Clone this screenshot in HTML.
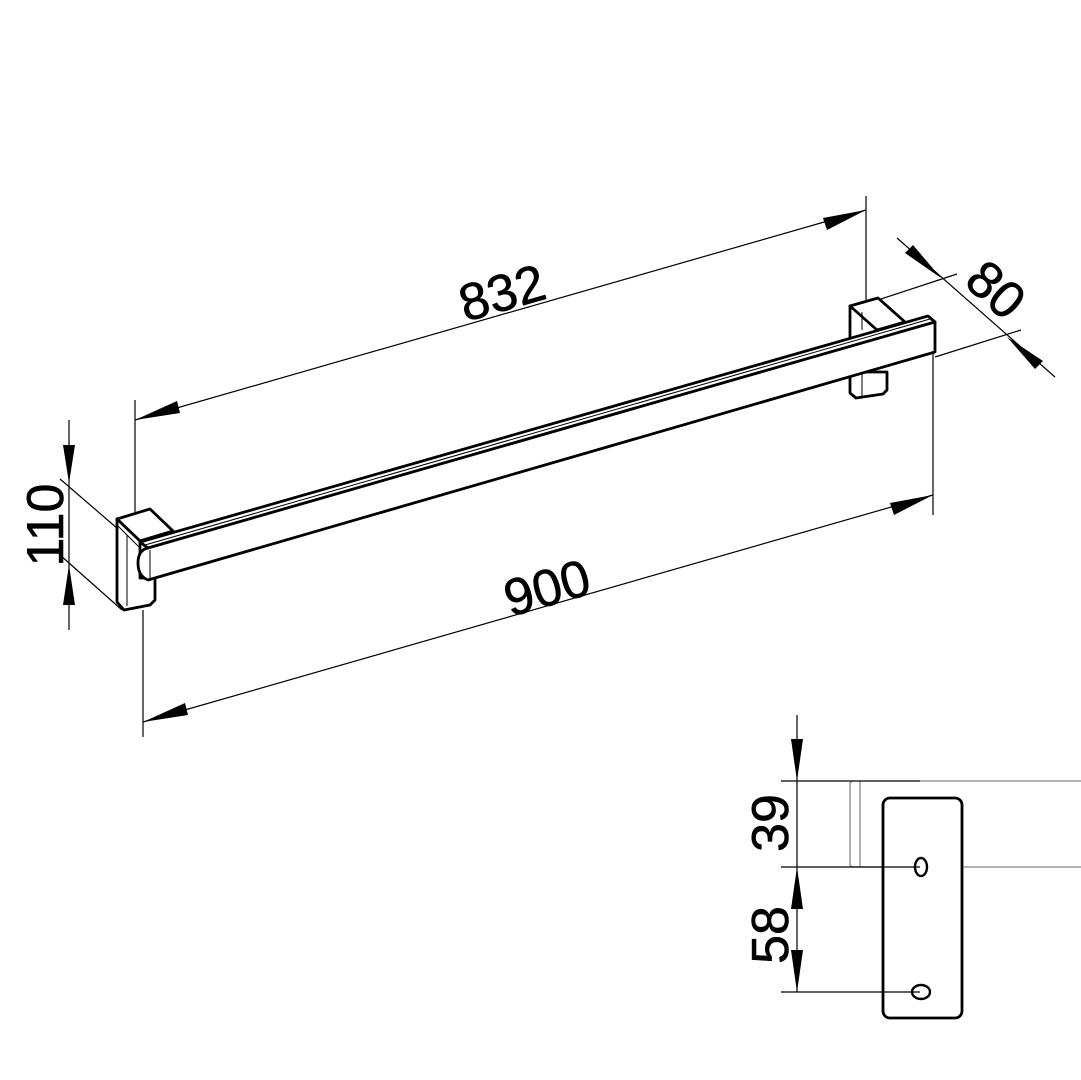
<!DOCTYPE html>
<html><head><style>body{margin:0;background:#fff}svg{display:block}</style></head><body>
<svg width="1081" height="1080" viewBox="0 0 1081 1080" xmlns="http://www.w3.org/2000/svg" font-family="Liberation Sans, sans-serif">
<g stroke="#000" stroke-width="1.2" fill="none">
<line x1="135" y1="400" x2="135" y2="512"/>
<line x1="866" y1="196" x2="866" y2="300"/>
<line x1="135" y1="420" x2="866" y2="210"/>
<line x1="143" y1="610" x2="143" y2="737"/>
<line x1="933" y1="330" x2="933" y2="515"/>
<line x1="143" y1="722" x2="933" y2="495"/>
<line x1="897" y1="238" x2="1055" y2="377"/>
<line x1="878" y1="300" x2="957" y2="274"/>
<line x1="935" y1="357" x2="1021" y2="330"/>
<line x1="69" y1="420" x2="69" y2="630"/>
<line x1="60" y1="479" x2="125" y2="535"/>
<line x1="60" y1="555" x2="122" y2="610"/>
</g>
<g fill="#000">
<polygon points="135,420 177,401 180,413"/>
<polygon points="866,210 823,218 827,230"/>
<polygon points="143,722 185,703 188,715"/>
<polygon points="933,495 890,503 894,515"/>
<polygon points="941,278 905,253 913,245"/>
<polygon points="1007,337 1043,361 1035,369"/>
<polygon points="69,483 63,445 75,445"/>
<polygon points="69,565 63,605 75,605"/>
</g>
<g stroke="#000" stroke-width="2.8" fill="#fff" stroke-linejoin="round">
<path d="M117,519 L150,509 L173,531 L140,541 Z"/>
<path d="M117,519 L117,602 L124,610 L150,605 L155,600 L155,578 L140,578 L140,541 Z"/>
<path d="M850,306 L878,298 L905,322 L877,330 Z"/>
<path d="M850,306 L850,393 L856,398 L883,394 L887,390 L887,372 L850,372 Z"/>
<path d="M140,542 L928,316 L935,322 L148,548 Z"/>
<path d="M148,548 L935,322 L935,352 L148,580 Q138,576 138,563 Q138,550 148,548 Z"/>
</g>
<g stroke="#000" stroke-width="1" fill="none">
<line x1="145" y1="545" x2="930" y2="319"/>
<line x1="150" y1="550" x2="150" y2="578"/>
<line x1="127" y1="535" x2="127" y2="606"/>
<line x1="862" y1="312" x2="862" y2="330"/>
<line x1="862" y1="372" x2="862" y2="396"/>
<line x1="117" y1="525" x2="140" y2="548"/>
</g>
<g font-size="52" fill="#000" stroke="#000" stroke-width="0.6">
<text x="0" y="0" text-anchor="middle" transform="translate(507,310) rotate(-16)">832</text>
<text x="0" y="0" text-anchor="middle" transform="translate(552,605) rotate(-16)">900</text>
<text x="0" y="0" text-anchor="middle" transform="translate(984,303) rotate(42)">80</text>
<text x="0" y="0" text-anchor="middle" transform="translate(63,525) rotate(-90)">110</text>
<text x="0" y="0" text-anchor="middle" transform="translate(788,823) rotate(-90)">39</text>
<text x="0" y="0" text-anchor="middle" transform="translate(788,935) rotate(-90)">58</text>
</g>
<g stroke="#888" stroke-width="1.3" fill="none">
<line x1="920" y1="781" x2="1081" y2="781"/>
<line x1="962" y1="867" x2="1081" y2="867"/>
<path d="M852,781 L850,783 L850,865 L852,867 L883,867"/>
<line x1="860" y1="781" x2="860" y2="867"/>
</g>
<g stroke="#000" stroke-width="1.2" fill="none">
<line x1="797" y1="715" x2="797" y2="992"/>
<line x1="781" y1="781" x2="920" y2="781"/>
<line x1="781" y1="867" x2="920" y2="867"/>
<line x1="781" y1="992" x2="920" y2="992"/>
</g>
<g fill="#000">
<polygon points="797,781 791,739 803,739"/>
<polygon points="797,867 791,909 803,909"/>
<polygon points="797,992 791,950 803,950"/>
</g>
<rect x="883" y="798" width="79" height="220" rx="7" stroke="#000" stroke-width="2.8" fill="none"/>
<g stroke="#000" stroke-width="2.4" fill="none">
<ellipse cx="921" cy="867" rx="6" ry="9"/>
<ellipse cx="921" cy="992" rx="9" ry="7"/>
</g>
</svg>
</body></html>
